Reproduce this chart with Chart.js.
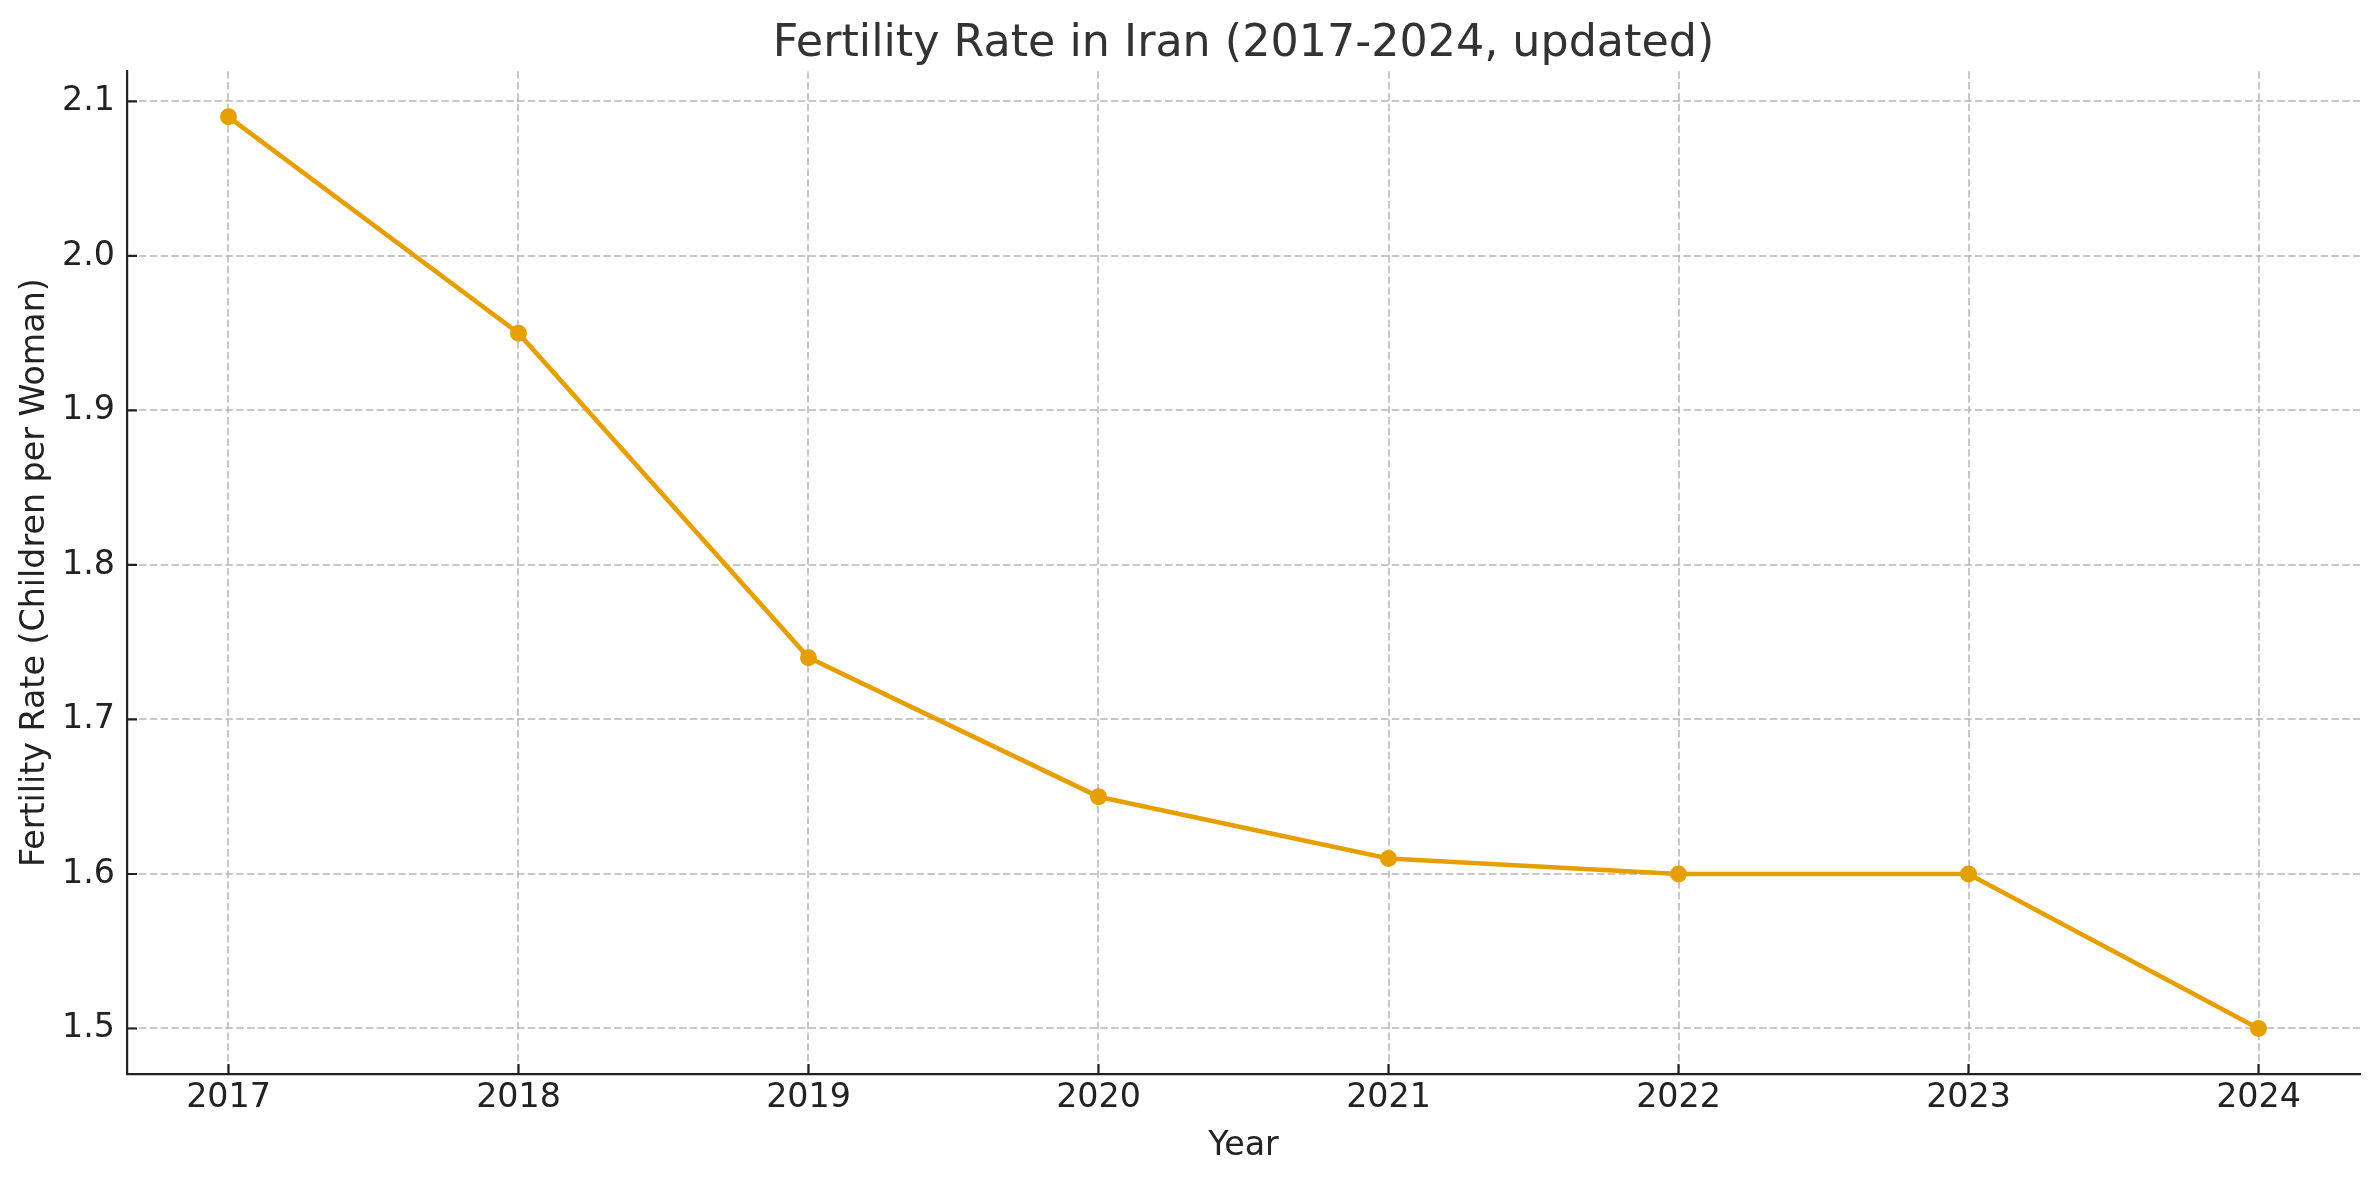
<!DOCTYPE html>
<html>
<head>
<meta charset="utf-8">
<script src="https://cdn.jsdelivr.net/npm/chart.js@4.4.1/dist/chart.umd.min.js"></script>
<style>
  html, body { margin: 0; padding: 0; background: #fff; }
  #wrap { width: 2380px; height: 1180px; }
</style>
</head>
<body>
<div id="wrap"><canvas id="chart" width="2380" height="1180"></canvas></div>
<script>
// data
const years = [2017, 2018, 2019, 2020, 2021, 2022, 2023, 2024];
const fertility = [2.09, 1.95, 1.74, 1.65, 1.61, 1.60, 1.60, 1.50];
const yTicks = [1.5, 1.6, 1.7, 1.8, 1.9, 2.0, 2.1];

const FONT = "'DejaVu Sans', sans-serif";
const INK = '#222222';
const GRID = 'rgba(176,176,176,0.7)';

// matplotlib-style inward ticks on left/bottom spines
const inwardTicks = {
  id: 'inwardTicks',
  afterDraw(c) {
    const ctx = c.ctx, a = c.chartArea;
    const x = c.scales.x, y = c.scales.y;
    ctx.save();
    ctx.strokeStyle = INK;
    ctx.lineWidth = 2.2;
    ctx.beginPath();
    years.forEach(v => {
      const px = x.getPixelForValue(v);
      ctx.moveTo(px, a.bottom); ctx.lineTo(px, a.bottom - 10);
    });
    yTicks.forEach(v => {
      const py = y.getPixelForValue(v);
      ctx.moveTo(a.left, py); ctx.lineTo(a.left + 10, py);
    });
    ctx.stroke();
    ctx.restore();
  }
};

new Chart(document.getElementById('chart'), {
  type: 'line',
  data: {
    datasets: [{
      label: 'Fertility Rate',
      data: years.map((yr, i) => ({ x: yr, y: fertility[i] })),
      borderColor: '#E69F00',
      backgroundColor: '#E69F00',
      borderWidth: 4.7,
      pointRadius: 8.5,
      pointHoverRadius: 8.5,
      pointBorderWidth: 0,
      tension: 0
    }]
  },
  options: {
    responsive: false,
    animation: false,
    devicePixelRatio: 1,
    layout: { padding: { left: 0, right: 20, top: 0, bottom: 0 } },
    plugins: {
      legend: { display: false },
      tooltip: { enabled: false },
      title: {
        display: true,
        fullSize: false,
        text: 'Fertility Rate in Iran (2017-2024, updated)',
        color: '#333333',
        font: { family: FONT, size: 44.4, weight: 'normal' },
        padding: { top: 18, bottom: 0 }
      }
    },
    scales: {
      x: {
        type: 'linear',
        min: 2016.65,
        max: 2024.35,
        afterBuildTicks: s => { s.ticks = years.map(v => ({ value: v })); },
        ticks: {
          color: INK,
          font: { family: FONT, size: 33.3 },
          padding: 4,
          callback: v => String(v)
        },
        grid: { color: GRID, lineWidth: 2, drawTicks: false, tickLength: 0 },
        border: { display: true, color: INK, width: 2.2, dash: [7.5, 3.3] },
        title: {
          display: true,
          text: 'Year',
          color: INK,
          font: { family: FONT, size: 33.3 },
          padding: { top: 4.5, bottom: 13.5 }
        }
      },
      y: {
        type: 'linear',
        min: 1.4705,
        max: 2.1195,
        afterBuildTicks: s => { s.ticks = yTicks.map(v => ({ value: v })); },
        afterFit: s => { s.width = 127; },
        ticks: {
          color: INK,
          font: { family: FONT, size: 33.3 },
          padding: 12,
          callback: v => v.toFixed(1)
        },
        grid: { color: GRID, lineWidth: 2, drawTicks: false, tickLength: 0 },
        border: { display: true, color: INK, width: 2.2, dash: [7.5, 3.3] },
        title: {
          display: true,
          text: 'Fertility Rate (Children per Woman)',
          color: INK,
          font: { family: FONT, size: 33.3 },
          padding: { top: 15, bottom: 0 }
        }
      }
    }
  },
  plugins: [inwardTicks]
});
</script>
</body>
</html>
